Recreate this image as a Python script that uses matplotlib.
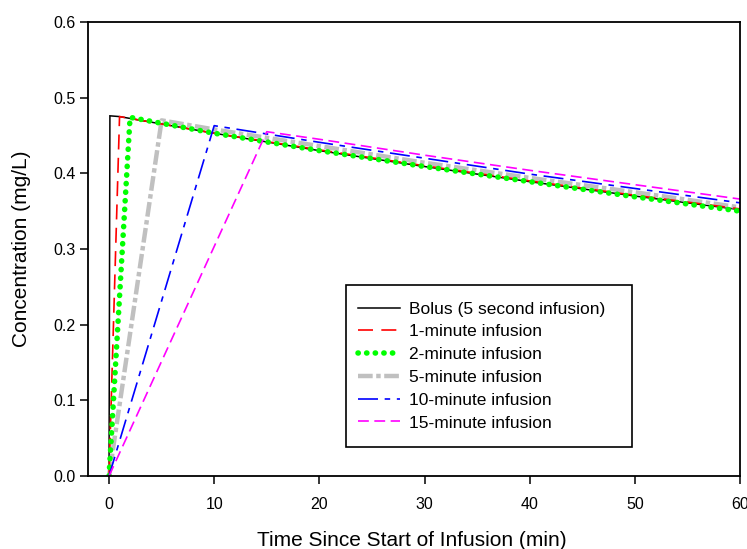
import matplotlib
matplotlib.use("Agg")
import matplotlib.pyplot as plt
from matplotlib.patches import Rectangle

plt.rcParams['font.family'] = ['Liberation Sans', 'DejaVu Sans']

# ---- data ----
labels = ["Bolus (5 second infusion)", "1-minute infusion", "2-minute infusion",
          "5-minute infusion", "10-minute infusion", "15-minute infusion"]

t_bolus = [0, 0.083, 1, 10, 20, 30, 40, 50, 60]
c_bolus = [0, 0.476, 0.475, 0.453, 0.430, 0.409, 0.389, 0.370, 0.352]

t_1min = [0, 1, 10, 20, 30, 40, 50, 60]
c_1min = [0, 0.475, 0.453, 0.431, 0.410, 0.390, 0.371, 0.353]

t_2min = [0, 2, 10, 20, 30, 40, 50, 60]
c_2min = [0, 0.474, 0.453, 0.430, 0.409, 0.389, 0.369, 0.350]

t_5min = [0, 5, 10, 20, 30, 40, 50, 60]
c_5min = [0, 0.470, 0.458, 0.436, 0.414, 0.394, 0.375, 0.355]

t_10min = [0, 10, 20, 30, 40, 50, 60]
c_10min = [0, 0.463, 0.441, 0.420, 0.399, 0.380, 0.361]

t_15min = [0, 15, 20, 30, 40, 50, 60]
c_15min = [0, 0.455, 0.445, 0.424, 0.404, 0.385, 0.366]

x_ticks = [0, 10, 20, 30, 40, 50, 60]
y_ticks = [0.0, 0.1, 0.2, 0.3, 0.4, 0.5, 0.6]

# ---- figure ----
fig = plt.figure(figsize=(7.47, 5.49), dpi=100)
ax = fig.add_axes([88/747, 73/549, 652/747, 454/549])

h_bolus, = ax.plot(t_bolus, c_bolus, color='black', lw=1.1, solid_joinstyle='miter')
h_5, = ax.plot(t_5min, c_5min, color='#c0c0c0', lw=3.2,
               dashes=(3.3, 0.8, 1.0, 0.8), dash_capstyle='butt')
h_1, = ax.plot(t_1min, c_1min, color='#ff0000', lw=1.2, dashes=(9, 5))
h_2, = ax.plot(t_2min, c_2min, color='#00ff00', lw=4.0,
               dashes=(0.05, 1.5), dash_capstyle='round')
h_10, = ax.plot(t_10min, c_10min, color='#0000ff', lw=1.2, dashes=(12, 4, 3.3, 4))
h_15, = ax.plot(t_15min, c_15min, color='#ff00ff', lw=1.2, dashes=(6.5, 3.3))

ax.set_xlim(-2, 60)
ax.set_ylim(0, 0.6)
ax.set_xticks(x_ticks)
ax.set_yticks(y_ticks)
ax.set_yticklabels([f"{v:.1f}" for v in y_ticks])

for s in ax.spines.values():
    s.set_linewidth(1.3)
ax.tick_params(direction='out', length=6, width=1.1, labelsize=11.5, colors='black')
ax.tick_params(axis='x', pad=9)
ax.tick_params(axis='y', pad=3)

ax.set_xlabel("Time Since Start of Infusion (min)", fontsize=15)
ax.set_ylabel("Concentration (mg/L)", fontsize=15)
ax.xaxis.set_label_coords((412 - 88) / 652, (476 - 540) / 454)
ax.yaxis.set_label_coords((22 - 88) / 652, 0.5)
ax.xaxis.label.set_va('center')
ax.yaxis.label.set_va('center')

# legend box
ax.add_patch(Rectangle(((346 - 88) / 652, (476 - 447) / 454),
                       (632 - 346) / 652, (447 - 285) / 454,
                       transform=ax.transAxes, fill=False, ec='black', lw=1.2,
                       zorder=5))
leg = ax.legend([h_bolus, h_1, h_2, h_5, h_10, h_15], labels,
                loc='center left', bbox_to_anchor=((358 - 88) / 652, (476 - 366) / 454),
                frameon=False, fontsize=12.5, borderpad=0, borderaxespad=0,
                handlelength=2.4, handletextpad=0.55, labelspacing=0.44)
leg.set_zorder(6)

fig.savefig("out.png", dpi=100)
